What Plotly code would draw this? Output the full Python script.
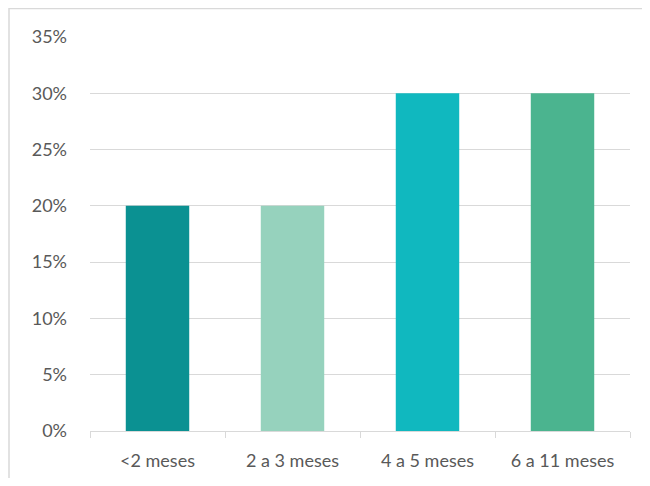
import plotly.graph_objects as go

categories = ["<2 meses", "2 a 3 meses", "4 a 5 meses", "6 a 11 meses"]
values = [0.20, 0.20, 0.30, 0.30]
colors = ["#0B9192", "#96D2BD", "#10B8BF", "#4BB48F"]
y_ticks = [0, 0.05, 0.10, 0.15, 0.20, 0.25, 0.30, 0.35]
y_labels = ["0%", "5%", "10%", "15%", "20%", "25%", "30%", "35%"]

# page has an 8px body margin; figure coordinates = page - 8
W, H = 634, 470
L, R, T, B = 82, 12, 29, 47
pw, ph = W - L - R, H - T - B

fig = go.Figure(go.Bar(x=categories, y=values, marker=dict(color=colors, line=dict(width=0))))

def px_x(p):
    return (p - L) / pw

def px_y(p):
    return (H - B - p) / ph

fig.update_layout(
    width=W, height=H,
    margin=dict(l=L, r=R, t=T, b=B),
    paper_bgcolor="white", plot_bgcolor="white",
    bargap=0.53,
    showlegend=False,
    font=dict(family="Lato, Open Sans, sans-serif", size=18, color="#595959"),
    xaxis=dict(
        tickson="boundaries", ticks="outside", ticklen=6, tickcolor="#D9D9D9",
        showline=True, linecolor="#D9D9D9", linewidth=1,
        showgrid=False, tickfont=dict(size=18, color="#595959"),
        ticklabelstandoff=13, automargin=False,
    ),
    yaxis=dict(
        range=[0, 0.35], tickvals=y_ticks, ticktext=y_labels,
        showgrid=True, gridcolor="#D9D9D9", gridwidth=1,
        zeroline=False, showline=False, ticks="", ticklabelstandoff=22,
        tickfont=dict(size=18, color="#595959"), automargin=False,
    ),
    shapes=[
        dict(type="line", xref="paper", yref="paper", x0=px_x(1), x1=px_x(1), y0=px_y(0), y1=px_y(H + 5),
             line=dict(color="#D9D9D9", width=1.5)),
        dict(type="line", xref="paper", yref="paper", x0=px_x(1), x1=px_x(W + 5), y0=px_y(0.5), y1=px_y(0.5),
             line=dict(color="#D9D9D9", width=1.5)),
    ],
)

fig.write_html("out.html")
